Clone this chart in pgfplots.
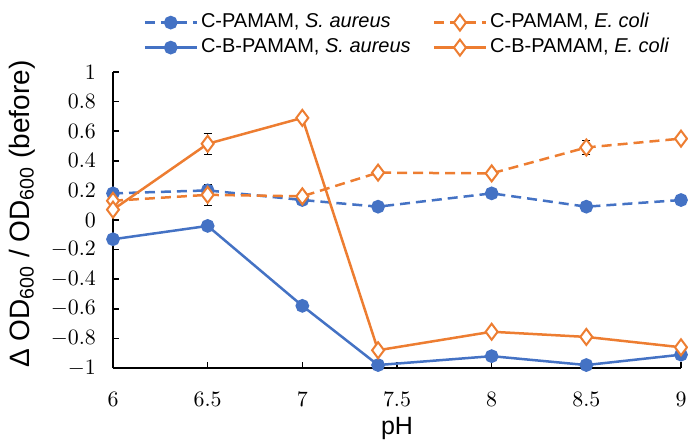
\documentclass[border=0pt]{standalone}
\usepackage{pgfplots}
\pgfplotsset{compat=1.18}
\usepackage{fontspec}
\setmainfont{Liberation Sans}
\usetikzlibrary{calc}
\definecolor{cblue}{HTML}{4472C4}
\definecolor{corange}{HTML}{ED7D31}
\begin{document}
\begin{tikzpicture}
\begin{axis}[
  name=ax,
  scale only axis,
  width=284pt, height=148pt,
  xmin=6, xmax=9, ymin=-1, ymax=1,
  axis lines*=left,
  axis line style={black, line width=0.8pt},
  xtick={6,6.5,7,7.5,8,8.5,9},
  ytick={-1,-0.8,-0.6,-0.4,-0.2,0,0.2,0.4,0.6,0.8,1},
  tick align=inside,
  major tick length=3pt,
  tick style={black, line width=0.8pt},
  ticklabel style={font=\fontsize{10.5}{12}\selectfont},
  xticklabel style={anchor=base, yshift=-19pt},
  yticklabel style={xshift=-5pt},
  xlabel={\fontsize{12.5}{14}\selectfont pH},
  ylabel={\fontsize{14}{16}\selectfont Δ OD\textsubscript{600} / OD\textsubscript{600} (before)},
  xlabel style={at={(rel axis cs:0.5,0)}, anchor=base, yshift=-33pt},
  ylabel style={at={(rel axis cs:0,0.5)}, anchor=center, yshift=45.5pt, xshift=3pt},
  legend columns=2,
  legend style={at={(rel axis cs:0.053,1)}, anchor=south west, yshift=5.75pt, draw=none, fill=none,
    inner sep=0pt, font=\fontsize{10}{12}\selectfont, row sep=0pt,
    nodes={inner xsep=1.5pt, inner ysep=0pt, text height=8.5pt, text depth=4pt},
    /tikz/every even column/.append style={column sep=9.5pt}},
  legend cell align=left,
  legend image code/.code={\draw[mark repeat=2,mark phase=2] plot coordinates {(0pt,0pt)(13pt,0pt)(26pt,0pt)};},
  clip=false,
]
% C-PAMAM, S. aureus
\addplot[cblue, line width=1.25pt, dash pattern=on 5pt off 3pt, mark=*, mark size=2.8pt,
  mark options={solid, fill=cblue, draw=cblue},
  error bars/.cd, y dir=both, y explicit, error bar style={black, line width=0.5pt, solid}, error mark options={black, rotate=90, mark size=2pt, line width=0.5pt}]
  table[x=x, y=y, y error=e] {
x y e
6 0.18 0.01
6.5 0.20 0.03
7 0.135 0.03
7.4 0.09 0.01
8 0.18 0.01
8.5 0.09 0.01
9 0.135 0.01
};
\addlegendentry{C-PAMAM, \textit{S. aureus}}
% C-PAMAM, E. coli
\addplot[corange, line width=1.25pt, dash pattern=on 5pt off 3pt, mark=diamond*, mark size=4pt,
  mark options={solid, fill=white, draw=corange, line width=1pt},
  error bars/.cd, y dir=both, y explicit, error bar style={black, line width=0.5pt, solid}, error mark options={black, rotate=90, mark size=2pt, line width=0.5pt}]
  table[x=x, y=y, y error=e] {
x y e
6 0.13 0.01
6.5 0.17 0.07
7 0.16 0.02
7.4 0.32 0.01
8 0.315 0.02
8.5 0.49 0.05
9 0.55 0.01
};
\addlegendentry{C-PAMAM, \textit{E. coli}}
% C-B-PAMAM, S. aureus
\addplot[cblue, line width=1.25pt, mark=*, mark size=2.8pt,
  mark options={solid, fill=cblue, draw=cblue}]
  table[x=x, y=y] {
x y
6 -0.13
6.5 -0.04
7 -0.58
7.4 -0.98
8 -0.92
8.5 -0.98
9 -0.91
};
\addlegendentry{C-B-PAMAM, \textit{S. aureus}}
% C-B-PAMAM, E. coli
\addplot[corange, line width=1.25pt, mark=diamond*, mark size=4pt,
  mark options={solid, fill=white, draw=corange, line width=1pt},
  error bars/.cd, y dir=both, y explicit, error bar style={black, line width=0.5pt, solid}, error mark options={black, rotate=90, mark size=2pt, line width=0.5pt}]
  table[x=x, y=y, y error=e] {
x y e
6 0.07 0.01
6.5 0.515 0.07
7 0.69 0.02
7.4 -0.88 0.01
8 -0.755 0.01
8.5 -0.79 0.01
9 -0.86 0.01
};
\addlegendentry{C-B-PAMAM, \textit{E. coli}}
\end{axis}
\pgfresetboundingbox
\path[use as bounding box] ($(ax.south west)+(-56.5pt,-35.5pt)$) rectangle ($(ax.north east)+(3.5pt,36pt)$);
\end{tikzpicture}
\end{document}
